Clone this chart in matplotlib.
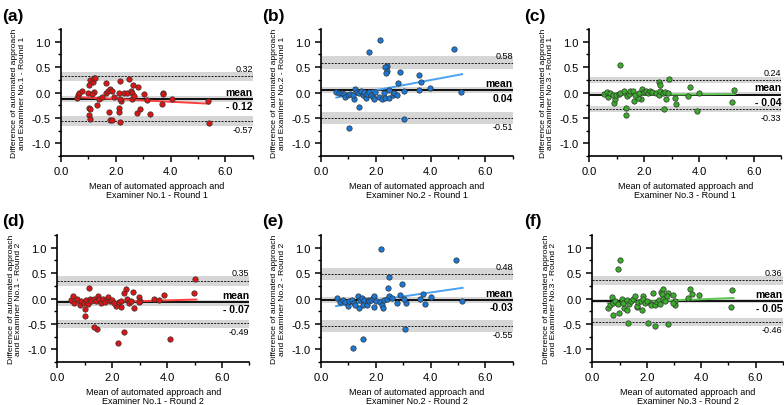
import numpy as np
import matplotlib
matplotlib.use("Agg")
from matplotlib import pyplot as plt
from matplotlib.ticker import MultipleLocator, FormatStrFormatter

plt.rcParams['font.family'] = ['Liberation Sans', 'DejaVu Sans']

# panel (a) Examiner 1, round 1
a_x = [0.58, 0.63, 0.67, 0.75, 0.97, 1.02, 1.07, 1.16, 1.19, 1.25, 1.22, 1.12, 1.02, 1.06,
       1.01, 1.06, 1.30, 1.40, 1.48, 1.64, 1.65, 1.70, 1.80, 1.85, 1.74, 1.79, 1.86, 1.95,
       2.13, 2.10, 2.13, 2.14, 2.17, 2.20, 2.17, 2.29, 2.41, 2.49, 2.55, 2.59, 2.59, 2.63,
       2.65, 2.81, 2.90, 2.77, 3.04, 3.14, 3.24, 3.69, 3.73, 3.73, 4.04, 5.37, 5.40]
a_y = [-0.10, -0.04, -0.01, 0.03, -0.01, 0.14, 0.24, 0.21, 0.29, 0.29, 0.01, -0.03, -0.30, -0.32,
       -0.45, -0.53, -0.25, -0.12, -0.09, 0.19, -0.01, 0.03, 0.06, 0.03, -0.38, -0.55, -0.54, -0.09,
       -0.01, -0.31, -0.38, -0.59, 0.22, -0.17, -0.13, -0.01, -0.01, 0.27, 0.03, -0.01, -0.13, 0.14,
       -0.07, 0.10, -0.32, -0.40, -0.03, -0.15, -0.43, -0.23, -0.01, -0.03, -0.12, -0.16, -0.61]

# panel (b) Examiner 2, round 1
b_x = [2.15, 1.75, 4.87, 2.40, 2.35, 2.41, 2.36, 2.87, 3.58, 3.66, 2.82, 2.48, 3.04, 3.56,
       3.97, 5.10, 3.02, 1.37, 1.02, 1.19, 0.56, 0.67, 0.77, 0.85, 0.89, 0.97, 1.07, 1.16,
       1.23, 1.31, 1.37, 1.46, 1.52, 1.58, 1.64, 1.68, 1.76, 1.82, 1.89, 1.92, 1.97, 2.13,
       2.23, 2.31, 2.35, 2.49, 2.62, 2.68, 2.77]
b_y = [1.03, 0.79, 0.86, 0.53, 0.50, 0.42, 0.38, 0.41, 0.34, 0.21, 0.18, 0.05, 0.03, 0.05,
       0.08, 0.01, -0.53, -0.29, -0.70, -0.13, 0.01, -0.01, 0.00, -0.03, -0.08, -0.05, -0.03, -0.05,
       0.06, 0.01, 0.00, 0.03, -0.04, 0.01, -0.10, -0.02, 0.01, -0.05, -0.08, -0.12, 0.01, -0.09,
       -0.12, -0.01, -0.10, -0.10, -0.04, 0.00, -0.05]

# panel (c) Examiner 3, round 1
c_x = [1.13, 2.54, 2.58, 2.91, 3.69, 4.00, 5.27, 5.19, 3.93, 3.16, 3.13, 2.79, 2.73, 3.61,
       1.34, 1.33, 1.63, 1.89, 1.76, 0.90, 0.94, 0.69, 0.55, 0.63, 0.75, 0.85, 0.97, 1.07,
       1.13, 1.27, 1.36, 1.44, 1.48, 1.58, 1.68, 1.80, 1.91, 2.01, 2.07, 2.13, 2.23, 2.29,
       2.43, 2.53, 2.59, 2.68, 2.75, 2.87]
c_y = [0.55, 0.21, 0.14, 0.26, 0.11, 0.00, 0.05, -0.19, -0.36, -0.23, -0.10, -0.12, -0.33, -0.06,
       -0.31, -0.45, -0.17, -0.12, -0.10, -0.21, -0.12, -0.09, -0.03, 0.01, -0.01, -0.04, -0.05, -0.02,
       -0.01, 0.03, -0.07, -0.02, 0.03, 0.03, -0.04, 0.00, 0.06, 0.01, 0.03, -0.01, 0.03, 0.01,
       0.00, -0.05, 0.03, -0.01, 0.01, 0.00]

# panel (d) Examiner 1, round 2
d_x = [5.03, 4.97, 3.90, 3.51, 3.69, 4.09, 2.22, 2.43, 1.45, 1.32, 1.02, 1.02, 1.17, 2.50,
       2.44, 2.77, 2.96, 3.02, 2.78, 2.32, 2.13, 0.51, 0.57, 0.62, 0.72, 0.84, 0.86, 0.96,
       1.06, 1.11, 1.18, 1.24, 1.32, 1.41, 1.47, 1.52, 1.60, 1.66, 1.72, 1.81, 1.85, 1.91,
       2.00, 2.08, 2.23, 2.33, 2.54, 2.60, 2.68, 2.99]
d_y = [0.39, 0.10, 0.07, -0.01, -0.02, -0.79, -0.87, -0.65, -0.61, -0.56, -0.34, -0.20, 0.20, 0.18,
       0.10, 0.12, 0.03, -0.05, -0.19, -0.17, -0.15, -0.03, 0.04, -0.08, 0.00, -0.13, -0.05, -0.08,
       -0.03, -0.11, 0.00, -0.05, -0.01, -0.05, 0.04, -0.01, -0.08, 0.00, -0.07, -0.01, 0.03, -0.05,
       -0.03, -0.08, -0.07, -0.05, -0.01, -0.09, -0.05, -0.06]

# panel (e) Examiner 2, round 2
e_x = [2.19, 4.93, 2.47, 2.94, 2.45, 3.08, 1.53, 1.16, 5.13, 4.00, 3.81, 3.71, 3.60, 3.10,
       3.04, 2.88, 2.77, 0.57, 0.71, 0.80, 0.88, 0.97, 1.03, 1.12, 1.22, 1.25, 1.34, 1.37,
       1.44, 1.48, 1.52, 1.58, 1.67, 1.70, 1.76, 1.82, 1.89, 1.92, 1.95, 2.01, 2.17, 2.23,
       2.25, 2.31, 2.41, 2.49, 2.58]
e_y = [0.97, 0.75, 0.43, 0.28, 0.21, -0.61, -0.80, -0.98, -0.05, 0.03, -0.10, 0.08, 0.00, -0.08,
       -0.01, 0.07, -0.08, 0.01, -0.07, -0.02, -0.07, -0.15, -0.05, -0.03, -0.09, -0.12, 0.05, -0.18,
       -0.03, 0.01, -0.13, -0.03, -0.13, -0.02, -0.05, -0.02, 0.01, 0.05, -0.16, -0.05, -0.07, -0.12,
       -0.18, -0.03, 0.00, 0.05, 0.01]

# panel (f) Examiner 3, round 2
f_x = [1.02, 0.93, 5.15, 5.11, 3.60, 3.65, 3.92, 3.52, 1.32, 2.06, 2.31, 2.78, 0.77, 0.99,
       1.17, 1.27, 1.83, 1.66, 2.23, 2.53, 2.60, 2.56, 2.79, 2.95, 3.05, 3.05, 2.95, 0.59,
       0.65, 0.74, 0.77, 0.83, 0.93, 1.08, 1.14, 1.26, 1.35, 1.44, 1.50, 1.56, 1.63, 1.68,
       1.78, 1.86, 1.86, 1.95, 2.02, 2.14, 2.16, 2.32, 2.37, 2.44, 2.49, 2.59, 2.67, 2.73]
f_y = [0.76, 0.58, 0.16, -0.16, 0.18, 0.08, 0.07, 0.01, -0.49, -0.49, -0.55, -0.51, -0.33, -0.28,
       -0.18, -0.22, -0.22, -0.17, 0.10, 0.12, 0.18, 0.09, 0.10, 0.07, -0.05, -0.12, -0.08, -0.18,
       -0.13, 0.02, -0.08, -0.05, -0.11, 0.00, -0.08, -0.03, -0.10, -0.05, 0.00, 0.05, -0.14, -0.07,
       -0.05, 0.05, -0.01, -0.08, -0.05, -0.11, -0.13, -0.13, -0.07, -0.03, -0.10, 0.00, -0.05, 0.05]

# bias and limits of agreement
means = [-0.12, 0.04, -0.04, -0.07, -0.03, -0.05]
mean_labels = ["- 0.12", "0.04", "- 0.04", "- 0.07", "-0.03", "- 0.05"]
upper = [0.32, 0.58, 0.24, 0.35, 0.48, 0.36]
lower = [-0.57, -0.51, -0.33, -0.49, -0.55, -0.46]
# confidence bands (low, high)
upper_ci = [(0.23, 0.41), (0.47, 0.71), (0.18, 0.30), (0.25, 0.44), (0.37, 0.60), (0.27, 0.45)]
mean_ci = [(-0.18, -0.07), (0.00, 0.10), (-0.07, 0.01), (-0.15, -0.03), (-0.09, 0.03), (-0.09, -0.01)]
lower_ci = [(-0.65, -0.47), (-0.62, -0.39), (-0.38, -0.27), (-0.59, -0.42), (-0.66, -0.43), (-0.55, -0.38)]
# regression line end points
reg_x = [(0.58, 5.40), (0.56, 5.15), (0.55, 5.30), (0.50, 5.07), (0.55, 5.17), (0.57, 5.19)]
reg_y = [(-0.09, -0.22), (-0.10, 0.36), (-0.05, -0.03), (-0.09, -0.02), (-0.15, 0.21), (-0.09, 0.01)]

xs = [a_x, b_x, c_x, d_x, e_x, f_x]
ys = [a_y, b_y, c_y, d_y, e_y, f_y]
letters = ["(a)", "(b)", "(c)", "(d)", "(e)", "(f)"]
examiners = ["No.1", "No.2", "No.3", "No.1", "No.2", "No.3"]
rounds = ["Round 1"] * 3 + ["Round 2"] * 3

dot_col = ["#dc1414", "#1a78d8", "#3aac2c", "#dc1414", "#1a78d8", "#3aac2c"]
reg_col = ["#ff4040", "#4aa2f2", "#5cc450", "#ff4040", "#4aa2f2", "#5cc450"]

W, H = 784, 406
fig = plt.figure(figsize=(7.84, 4.06), dpi=100)

# axes boxes in pixels: left, top, px per x unit
boxes = [(61, 30, 27.4), (321, 30, 27.4), (589.3, 30, 27.4),
         (57.3, 236, 27.45), (321, 236, 27.4), (592.3, 236, 27.2)]
letter_pos = [(2, 16), (262, 16), (524, 16), (2, 222), (262, 222), (524, 222)]

for i in range(6):
    l, t, sx = boxes[i]
    w = 7 * sx
    h = 127
    ax = fig.add_axes([l / W, (H - t - h) / H, w / W, h / H])
    ax.set_xlim(0, 7)
    ax.set_ylim(-1.25, 1.25)

    for lo, hi in (upper_ci[i], mean_ci[i], lower_ci[i]):
        ax.axhspan(lo, hi, color="#d6d6d6", lw=0, zorder=0)
    ax.axhline(means[i], color="black", lw=1.3, zorder=1)
    ax.axhline(upper[i], color="black", lw=0.6, ls=(0, (2.5, 1.5)), zorder=1)
    ax.axhline(lower[i], color="black", lw=0.6, ls=(0, (2.5, 1.5)), zorder=1)

    ax.scatter(xs[i], ys[i], s=15, color=dot_col[i], edgecolors="#333333",
               linewidths=0.5, zorder=3, clip_on=False)
    ax.plot(reg_x[i], reg_y[i], color=reg_col[i], lw=1.4, zorder=2)

    kw = dict(xycoords="data", textcoords="offset points", ha="right", fontsize=6.5)
    ax.annotate("%.2f" % upper[i], (7, upper[i]), xytext=(0, 2.5), va="bottom", **kw)
    ax.annotate("%.2f" % lower[i], (7, lower[i]), xytext=(0, -2.5), va="top", **kw)
    ax.annotate("mean", (7, means[i]), xytext=(0, 1.5), va="bottom",
                fontweight="bold", **{**kw, "fontsize": 7.5})
    ax.annotate(mean_labels[i], (7, means[i]), xytext=(0, -1.5), va="top",
                fontweight="bold", **{**kw, "fontsize": 7.5})

    for s in ("top", "right"):
        ax.spines[s].set_visible(False)
    for s in ("left", "bottom"):
        ax.spines[s].set_linewidth(1.2)

    ax.xaxis.set_major_locator(MultipleLocator(2))
    ax.xaxis.set_minor_locator(MultipleLocator(1))
    ax.yaxis.set_major_locator(MultipleLocator(0.5))
    ax.yaxis.set_minor_locator(MultipleLocator(0.25))
    ax.xaxis.set_major_formatter(FormatStrFormatter("%.1f"))
    ax.yaxis.set_major_formatter(FormatStrFormatter("%.1f"))
    ax.tick_params(which="major", length=4, width=1.1, labelsize=8, pad=3.5)
    ax.tick_params(which="minor", length=2.5, width=1.0)

    ax.set_xlabel("Mean of automated approach and\nExaminer %s - %s" % (examiners[i], rounds[i]),
                  fontsize=6.5, labelpad=3, linespacing=1.1)
    ax.set_ylabel("Difference of automated approach\nand Examiner %s - %s" % (examiners[i], rounds[i]),
                  fontsize=6.1, labelpad=4, linespacing=1.1)

    fig.text(letter_pos[i][0] / W, 1 - letter_pos[i][1] / H, letters[i],
             fontsize=12.5, fontweight="bold", va="center", ha="left")

fig.savefig("out.png", dpi=100)
